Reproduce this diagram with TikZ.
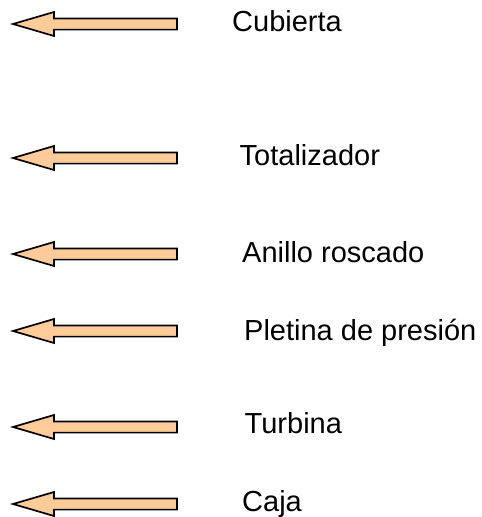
\documentclass[tikz,border=0pt]{standalone}
\usepackage{fontspec}
\setmainfont{Liberation Sans}
\begin{document}
\begin{tikzpicture}[x=1pt,y=1pt,
  arrowshape/.style={draw=black, line width=1.7pt, fill=arrowfill, line join=miter},
  partlabel/.style={anchor=base west, inner sep=0pt, font=\fontsize{29}{34}\selectfont}]
\definecolor{arrowfill}{HTML}{FFCC99}
\useasboundingbox (0,0) rectangle (482,-517);
\tikzset{pics/leftarrow/.style={code={
  \draw[arrowshape] (0,0) -- (41,12) -- (41,5.6) -- (164,5.6) -- (164,-5.6) -- (41,-5.6) -- (41,-12) -- cycle;
}}}
\pic at (13,-24) {leftarrow};
\pic at (13,-158) {leftarrow};
\pic at (13,-254) {leftarrow};
\pic at (13,-331) {leftarrow};
\pic at (13,-427) {leftarrow};
\pic at (13,-504) {leftarrow};
\node[partlabel] (cub) at (232,-31) {Cubierta};
\node[partlabel] (tot) at (239.5,-165) {Totalizador};
\node[partlabel] (ani) at (242,-262) {Anillo roscado};
\node[partlabel] (ple) at (244,-340) {Pletina de presión};
\node[partlabel] (tur) at (244.5,-433) {Turbina};
\node[partlabel] (caj) at (242,-511) {Caja};
\end{tikzpicture}
\end{document}
